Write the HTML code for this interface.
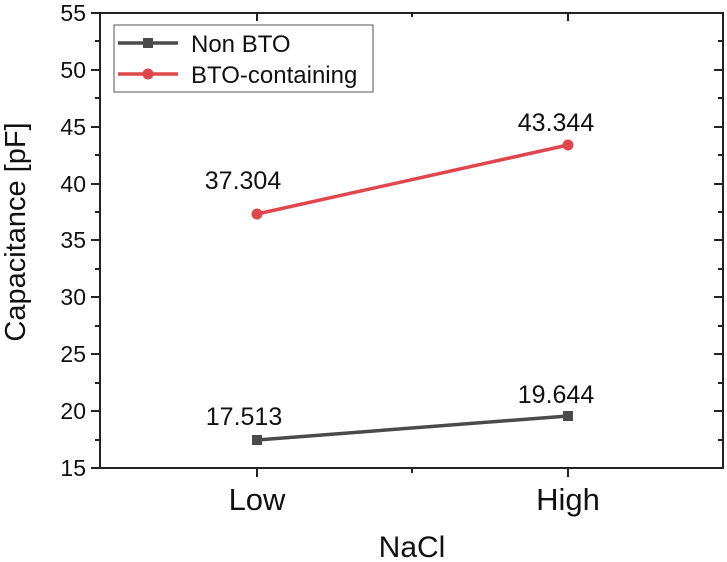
<!DOCTYPE html>
<html><head><style>body{margin:0;background:#fff}svg{display:block}text{font-family:"Liberation Sans",sans-serif;fill:#111}</style></head><body>
<svg width="727" height="562" viewBox="0 0 727 562">
<rect x="100" y="13" width="623" height="455" fill="none" stroke="#222" stroke-width="2"/>
<g stroke="#222" stroke-width="2">
<line x1="91" y1="13" x2="100" y2="13"/><line x1="91" y1="70" x2="100" y2="70"/><line x1="91" y1="127" x2="100" y2="127"/><line x1="91" y1="184" x2="100" y2="184"/><line x1="91" y1="240" x2="100" y2="240"/><line x1="91" y1="297" x2="100" y2="297"/><line x1="91" y1="354" x2="100" y2="354"/><line x1="91" y1="411" x2="100" y2="411"/><line x1="91" y1="468" x2="100" y2="468"/>
<line x1="95" y1="41" x2="100" y2="41"/><line x1="95" y1="98" x2="100" y2="98"/><line x1="95" y1="155" x2="100" y2="155"/><line x1="95" y1="212" x2="100" y2="212"/><line x1="95" y1="269" x2="100" y2="269"/><line x1="95" y1="326" x2="100" y2="326"/><line x1="95" y1="383" x2="100" y2="383"/><line x1="95" y1="440" x2="100" y2="440"/>
<line x1="714" y1="70" x2="723" y2="70"/><line x1="714" y1="127" x2="723" y2="127"/><line x1="714" y1="184" x2="723" y2="184"/><line x1="714" y1="240" x2="723" y2="240"/><line x1="714" y1="297" x2="723" y2="297"/><line x1="714" y1="354" x2="723" y2="354"/><line x1="714" y1="411" x2="723" y2="411"/>
<line x1="718" y1="41" x2="723" y2="41"/><line x1="718" y1="98" x2="723" y2="98"/><line x1="718" y1="155" x2="723" y2="155"/><line x1="718" y1="212" x2="723" y2="212"/><line x1="718" y1="269" x2="723" y2="269"/><line x1="718" y1="326" x2="723" y2="326"/><line x1="718" y1="383" x2="723" y2="383"/><line x1="718" y1="440" x2="723" y2="440"/>
<line x1="257" y1="468" x2="257" y2="477"/><line x1="568" y1="468" x2="568" y2="477"/><line x1="412" y1="468" x2="412" y2="473"/>
<line x1="257" y1="13" x2="257" y2="21"/><line x1="568" y1="13" x2="568" y2="21"/><line x1="412" y1="13" x2="412" y2="17"/>
</g>
<g font-size="23" text-anchor="end">
<text x="86" y="21">55</text><text x="86" y="78">50</text><text x="86" y="135">45</text><text x="86" y="192">40</text><text x="86" y="248">35</text><text x="86" y="305">30</text><text x="86" y="362">25</text><text x="86" y="419">20</text><text x="86" y="476">15</text>
</g>
<g text-anchor="middle">
<text x="257" y="510" font-size="31">Low</text><text x="568" y="510" font-size="31">High</text>
<text x="412" y="557" font-size="30">NaCl</text>
<text transform="translate(25,232) rotate(-90)" font-size="29">Capacitance [pF]</text>
</g>
<line x1="257" y1="440" x2="568" y2="416" stroke="#4a4a4a" stroke-width="3.5"/>
<rect x="252" y="435" width="10" height="10" fill="#4a4a4a"/><rect x="563" y="411" width="10" height="10" fill="#4a4a4a"/>
<line x1="257" y1="214" x2="568" y2="145" stroke="#e0474c" stroke-width="3.5"/>
<circle cx="257" cy="214" r="5.5" fill="#e0474c"/><circle cx="568" cy="145" r="5.5" fill="#e0474c"/>
<g font-size="25" text-anchor="middle">
<text x="244" y="425">17.513</text><text x="556" y="403">19.644</text>
<text x="243" y="189">37.304</text><text x="556" y="131">43.344</text>
</g>
<rect x="114" y="25" width="259" height="67" fill="#fff" stroke="#555" stroke-width="1"/>
<line x1="118" y1="43" x2="178" y2="43" stroke="#4a4a4a" stroke-width="3.5"/><rect x="143" y="38" width="10" height="10" fill="#4a4a4a"/>
<line x1="118" y1="74" x2="178" y2="74" stroke="#e0474c" stroke-width="3.5"/><circle cx="148" cy="74" r="5.5" fill="#e0474c"/>
<g font-size="24"><text x="191" y="52">Non BTO</text><text x="191" y="83">BTO-containing</text></g>
</svg>
</body></html>
